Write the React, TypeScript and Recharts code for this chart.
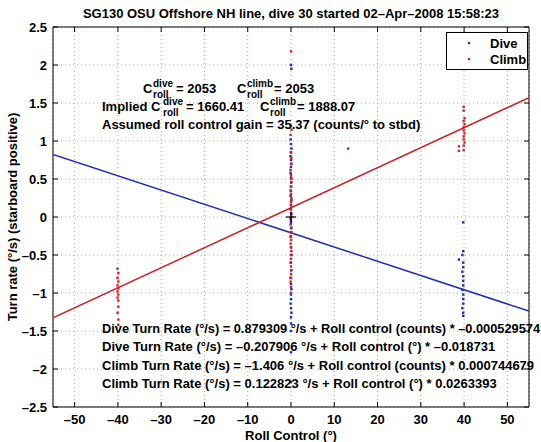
import React from 'react';
import { ScatterChart, Scatter, XAxis, YAxis, CartesianGrid, Legend, Label } from 'recharts';

const FONT = '"Liberation Sans", Arial, Helvetica, sans-serif';
const BLUE = '#1f2fb0';
const RED = '#cc2228';

const xTicks = [-50, -40, -30, -20, -10, 0, 10, 20, 30, 40, 50];
const yTicks = [-2.5, -2, -1.5, -1, -0.5, 0, 0.5, 1, 1.5, 2, 2.5];
const seriesOrder = ['Dive', 'Climb'];

const diveRoll = [
  0, 0.1, -0.1, 0, 0.1, 0, -0.1, 0, 0.1, 0, -0.1, 0, 0.1, 0, 0, -0.1, 0.1, 0, 0, 0.1, -0.1,
  0, 0.1, 0, -0.1, 0, 0.1, 0, 0, -0.1, 0, 0.1, 0, 0, -0.1, 0, 0.1, 0, 0, 0, 0, 0,
  39.8, 39.8, 39.6, 38.8, 39.8, 39.8, 39.6, 39.8, 39.8, 39.8, 39.6, 39.8, 39.8, 39.8, 39.6, 39.8, 39.8,
];
const diveRate = [
  2.0, 1.95, 1.02, 0.96, 0.9, 0.85, 0.8, 0.75, 0.7, 0.66, 0.58, 0.52, 0.46, 0.4, 0.34, 0.28, 0.22, 0.16, 0.1, 0.04, -0.02,
  -0.08, -0.14, -0.2, -0.26, -0.4, -0.5, -0.6, -0.7, -0.8, -0.88, -0.95, -1.02, -1.08, -1.14, -1.2, -1.26, -1.32, -1.4, -1.5, -1.78, -2.17,
  -0.07, -0.45, -0.5, -0.56, -0.6, -0.66, -0.72, -0.78, -0.84, -0.9, -0.96, -1.02, -1.08, -1.14, -1.2, -1.26, -1.3,
];

const climbRoll = [
  0, 0, 0.1, -0.1, 0, 0.1, 0, -0.1, 0, 0.1, 0, 0, -0.1, 0, 0.1, 0, 0, -0.1, 0, 0.1, 0,
  -0.1, 0, 0.1, 0, 0, -0.1, 0, 0.1, 0, 0, -0.1, 0, 0.1, 0, 0, -0.1, 0, 0,
  13.2,
  39.9, 39.9, 40.1, 39.9, 40.1, 39.9, 39.9, 40.1, 39.9, 39.9, 40.1, 39.9, 39.9, 38.8, 38.8,
  -40.1, -39.9, -40.1, -39.9, -40.1, -39.9, -40.1, -39.9, -40.1, -39.9, -39.9, -40.1, -39.9, -39.9,
];
const climbRate = [
  2.18, 1.2, 1.15, 1.08, 0.85, 0.78, 0.7, 0.62, 0.55, 0.5, 0.45, 0.4, 0.35, 0.3, 0.25, 0.2, 0.15, 0.1, 0.05, 0.0, -0.05,
  -0.1, -0.15, -0.2, -0.25, -0.3, -0.35, -0.4, -0.45, -0.5, -0.55, -0.6, -0.65, -0.7, -0.75, -0.8, -0.85, -0.92, -1.0,
  0.9,
  1.45, 1.4, 1.3, 1.26, 1.22, 1.18, 1.14, 1.1, 1.06, 1.02, 0.98, 0.94, 0.88, 0.93, 0.87,
  -0.68, -0.74, -0.8, -0.85, -0.9, -0.94, -0.98, -1.02, -1.06, -1.1, -1.18, -1.26, -1.35, -1.42,
];

const fitRoll = [-55, 55];
const diveFitRate = [0.822, -1.238];
const climbFitRate = [-1.326, 1.571];
const originRoll = [0];
const originRate = [0];

const pair = (xs: number[], ys: number[]) => xs.map((x, i) => ({ x, y: ys[i] }));
const diveData = pair(diveRoll, diveRate);
const climbData = pair(climbRoll, climbRate);
const diveFit = pair(fitRoll, diveFitRate);
const climbFit = pair(fitRoll, climbFitRate);
const originData = pair(originRoll, originRate);

const fmt = (v: number) => String(v).replace('-', '\u2013');

const dotShape = (color: string) => (props: any) => (
  <rect x={props.cx - 1.2} y={props.cy - 1.2} width={2.4} height={2.4} fill={color} />
);
const noShape = () => <g />;
const crossShape = (props: any) => (
  <g stroke="#000" strokeWidth={1.2}>
    <line x1={props.cx - 5} x2={props.cx + 5} y1={props.cy} y2={props.cy} />
    <line x1={props.cx} x2={props.cx} y1={props.cy - 5} y2={props.cy + 5} />
  </g>
);

const TL = 5;
const tickText = { fill: '#000', fontSize: 13, fontWeight: 'bold' as const, fontFamily: FONT };

const BottomTick = (props: any) => {
  const { x, y, payload } = props;
  return (
    <g>
      <line x1={x} x2={x} y1={y} y2={y - TL} stroke="#000" />
      <text x={x} y={y + 17} textAnchor="middle" {...tickText}>{fmt(payload.value)}</text>
    </g>
  );
};
const TopTick = (props: any) => {
  const { x, y } = props;
  return <line x1={x} x2={x} y1={y} y2={y + TL} stroke="#000" />;
};
const LeftTick = (props: any) => {
  const { x, y, payload } = props;
  return (
    <g>
      <line x1={x} x2={x + TL} y1={y} y2={y} stroke="#000" />
      <text x={x - 6} y={y + 4.5} textAnchor="end" {...tickText}>{fmt(payload.value)}</text>
    </g>
  );
};
const RightTick = (props: any) => {
  const { x, y } = props;
  return <line x1={x} x2={x - TL} y1={y} y2={y} stroke="#000" />;
};

const YLabel = (props: any) => {
  const vb = props.viewBox || { x: 0, y: 27, width: 53, height: 380 };
  const cx = vb.x + 17;
  const cy = vb.y + vb.height / 2;
  return (
    <text
      transform={`translate(${cx},${cy}) rotate(-90)`}
      textAnchor="middle"
      fill="#000"
      fontSize={13}
      fontWeight="bold"
      fontFamily={FONT}
    >
      Turn rate (°/s) (starboard positive)
    </text>
  );
};

const LegendBox = (props: any) => {
  const items = (props.payload || [])
    .filter((p: any) => p.type !== 'none' && seriesOrder.includes(p.value))
    .sort((a: any, b: any) => seriesOrder.indexOf(a.value) - seriesOrder.indexOf(b.value));
  return (
    <svg width={82} height={38} style={{ display: 'block' }}>
      <rect x={0.5} y={0.5} width={81} height={37} fill="#fff" stroke="#000" strokeWidth={1} />
      {items.map((p: any, i: number) => (
        <g key={i}>
          <rect x={22} y={10 + i * 16} width={2.2} height={2.2} fill={p.color} />
          <text x={44} y={16 + i * 16} fontSize={13} fontWeight="bold" fontFamily={FONT} fill="#000">
            {p.value}
          </text>
        </g>
      ))}
    </svg>
  );
};

const txt = { fontSize: 13, fontWeight: 'bold' as const, fontFamily: FONT, fill: '#000' };
const small = { fontSize: 10, fontWeight: 'bold' as const, fontFamily: FONT, fill: '#000' };

export default function App() {
  return (
    <div style={{ position: 'absolute', left: 0, top: 0, width: 541, height: 442, background: '#fff' }}>
      <ScatterChart width={541} height={442} margin={{ top: 26, right: 11, bottom: 0, left: 0 }}>
        <CartesianGrid stroke="#a8a8a8" strokeDasharray="1 3" />
        <XAxis
          dataKey="x"
          type="number"
          domain={[-55, 55]}
          ticks={xTicks}
          allowDataOverflow
          height={35}
          tickSize={0}
          tickMargin={0}
          tickLine={false}
          tick={<BottomTick />}
          axisLine={{ stroke: '#000' }}
        >
          <Label value="Roll Control (°)" position="insideBottom" offset={2} fill="#000" fontSize={13} fontWeight="bold" fontFamily={FONT} />
        </XAxis>
        <YAxis
          dataKey="y"
          type="number"
          domain={[-2.5, 2.5]}
          ticks={yTicks}
          allowDataOverflow
          width={53}
          tickSize={0}
          tickMargin={0}
          tickLine={false}
          tick={<LeftTick />}
          axisLine={{ stroke: '#000' }}
        >
          <Label content={YLabel} />
        </YAxis>
        <XAxis
          xAxisId="top"
          orientation="top"
          dataKey="x"
          type="number"
          domain={[-55, 55]}
          ticks={xTicks}
          allowDataOverflow
          height={1}
          tickSize={0}
          tickMargin={0}
          tickLine={false}
          tick={<TopTick />}
          axisLine={{ stroke: '#000' }}
        />
        <YAxis
          yAxisId="right"
          orientation="right"
          dataKey="y"
          type="number"
          domain={[-2.5, 2.5]}
          ticks={yTicks}
          allowDataOverflow
          width={1}
          tickSize={0}
          tickMargin={0}
          tickLine={false}
          tick={<RightTick />}
          axisLine={{ stroke: '#000' }}
        />
        <Legend
          layout="horizontal"
          verticalAlign="middle"
          align="center"
          width={82}
          height={38}
          wrapperStyle={{ top: 32, left: 446, width: 82, height: 38 }}
          content={(p: any) => <LegendBox payload={p.payload} />}
        />
        <Scatter
          name="dive fit"
          data={diveFit}
          fill={BLUE}
          legendType="none"
          line={{ stroke: BLUE, strokeWidth: 1.5 }}
          shape={noShape}
          isAnimationActive={false}
        />
        <Scatter
          name="climb fit"
          data={climbFit}
          fill={RED}
          legendType="none"
          line={{ stroke: RED, strokeWidth: 1.5 }}
          shape={noShape}
          isAnimationActive={false}
        />
        <Scatter name="Dive" data={diveData} fill={BLUE} shape={dotShape(BLUE)} isAnimationActive={false} />
        <Scatter name="Climb" data={climbData} fill={RED} shape={dotShape(RED)} isAnimationActive={false} />
        <Scatter
          name="origin"
          data={originData}
          xAxisId="top"
          yAxisId="right"
          fill="#000"
          legendType="none"
          shape={crossShape}
          isAnimationActive={false}
        />
      </ScatterChart>
      <svg width={541} height={442} style={{ position: 'absolute', left: 0, top: 0, pointerEvents: 'none' }}>
        <text x={291} y={18} textAnchor="middle" {...txt}>
          SG130 OSU Offshore NH line, dive 30 started 02–Apr–2008 15:58:23
        </text>
        <text x={143} y={93} {...txt}>C</text>
        <text x={153} y={87} {...small}>dive</text>
        <text x={153} y={98} {...small}>roll</text>
        <text x={176} y={93} {...txt}>= 2053</text>
        <text x={237} y={93} {...txt}>C</text>
        <text x={247} y={87} {...small}>climb</text>
        <text x={247} y={98} {...small}>roll</text>
        <text x={274} y={93} {...txt}>= 2053</text>
        <text x={102} y={111} {...txt}>Implied C</text>
        <text x={163} y={105} {...small}>dive</text>
        <text x={163} y={116} {...small}>roll</text>
        <text x={186} y={111} {...txt}>= 1660.41</text>
        <text x={260} y={111} {...txt}>C</text>
        <text x={270} y={105} {...small}>climb</text>
        <text x={270} y={116} {...small}>roll</text>
        <text x={297} y={111} {...txt}>= 1888.07</text>
        <text x={102} y={129} {...txt}>Assumed roll control gain = 35.37 (counts/° to stbd)</text>
        <text x={102} y={333} {...txt} textLength={438} lengthAdjust="spacingAndGlyphs">Dive Turn Rate (°/s) = 0.879309 °/s + Roll control (counts) * –0.000529574</text>
        <text x={102} y={351} {...txt}>Dive Turn Rate (°/s) = –0.207906 °/s + Roll control (°) * –0.018731</text>
        <text x={102} y={370} {...txt}>Climb Turn Rate (°/s) = –1.406 °/s + Roll control (counts) * 0.000744679</text>
        <text x={102} y={388} {...txt}>Climb Turn Rate (°/s) = 0.122823 °/s + Roll control (°) * 0.0263393</text>
      </svg>
    </div>
  );
}
